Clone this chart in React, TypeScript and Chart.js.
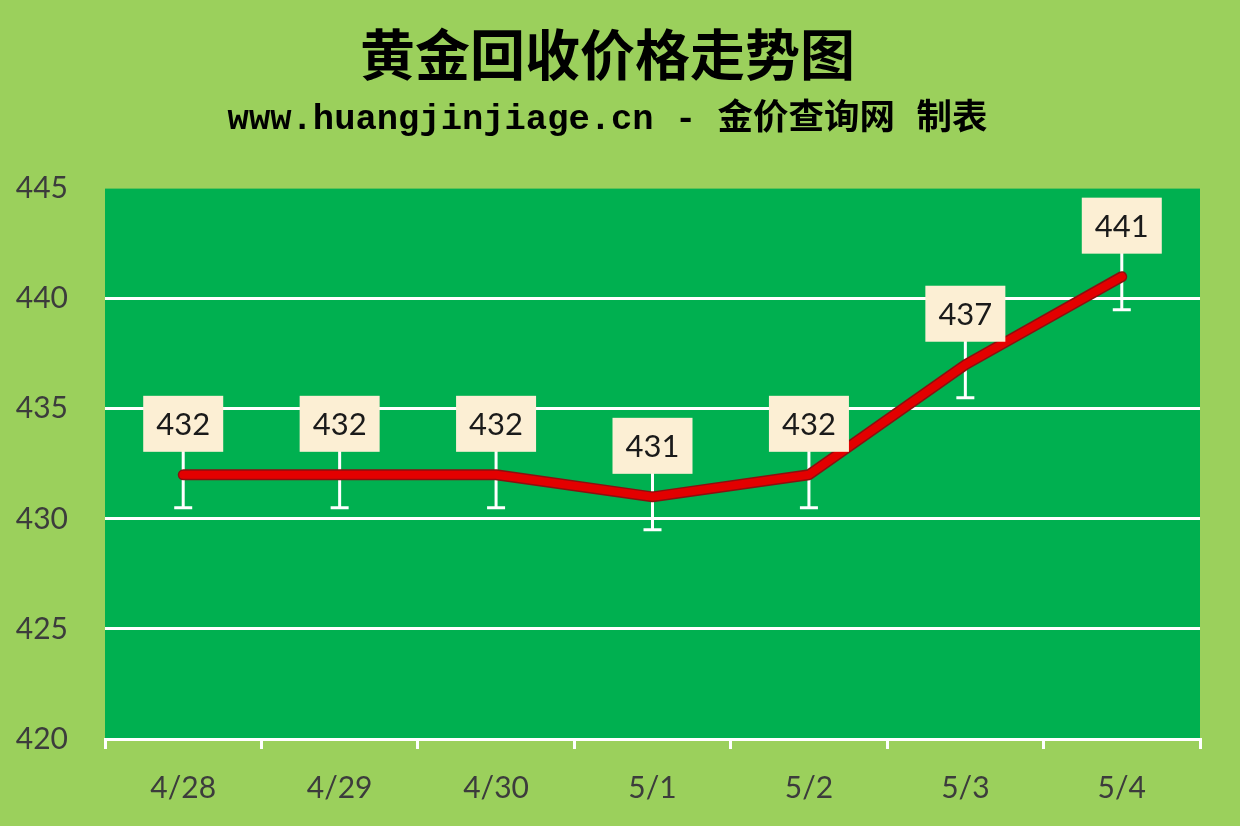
import React, { useEffect, useRef } from 'react';
import { Chart, registerables } from 'chart.js';

Chart.register(...registerables);

// Chart data
const categories = ['4/28', '4/29', '4/30', '5/1', '5/2', '5/3', '5/4'];
const prices = [432, 432, 432, 431, 432, 437, 441];
const errorAmount = 1.5;
const yTicks = [420, 425, 430, 435, 440, 445];

const titleText = '黄金回收价格走势图';
const subtitleText = 'www.huangjinjiage.cn - 金价查询网 制表';

const PAGE_BG = '#9bd05c';
const PLOT_BG = '#00b050';
const BOX_BG = '#fcefd4';

// Draws the plot background, the whiskers under the line and the value boxes above it
const decorPlugin = {
  id: 'decor',
  beforeDraw(chart: any) {
    const { ctx, chartArea } = chart;
    ctx.save();
    ctx.fillStyle = PLOT_BG;
    ctx.fillRect(chartArea.left, chartArea.top, chartArea.right - chartArea.left, chartArea.bottom - chartArea.top);
    ctx.restore();
  },
  beforeDatasetsDraw(chart: any) {
    const { ctx, scales } = chart;
    const x = scales.x;
    const y = scales.y;
    ctx.save();
    ctx.strokeStyle = '#ffffff';
    ctx.lineWidth = 3;
    ctx.lineCap = 'butt';
    prices.forEach((v, i) => {
      const px = x.getPixelForValue(i);
      const top = y.getPixelForValue(v + errorAmount);
      const bottom = y.getPixelForValue(v - errorAmount);
      ctx.beginPath();
      ctx.moveTo(px, top);
      ctx.lineTo(px, bottom);
      ctx.moveTo(px - 9, bottom);
      ctx.lineTo(px + 9, bottom);
      ctx.stroke();
    });
    ctx.restore();
  },
  afterDatasetsDraw(chart: any) {
    const { ctx, scales } = chart;
    const x = scales.x;
    const y = scales.y;
    const boxW = 80;
    const boxH = 56;
    ctx.save();
    ctx.font = '31px Lato, "Open Sans", sans-serif';
    ctx.textAlign = 'center';
    ctx.textBaseline = 'middle';
    prices.forEach((v, i) => {
      const px = x.getPixelForValue(i);
      const py = y.getPixelForValue(v);
      const bottom = py - 23;
      ctx.fillStyle = BOX_BG;
      ctx.fillRect(px - boxW / 2, bottom - boxH, boxW, boxH);
      ctx.fillStyle = '#1a1a1a';
      ctx.fillText(String(v), px, bottom - boxH / 2 + 1);
    });
    ctx.restore();
  },
};

const GoldPriceChart: React.FC = () => {
  const chartRef = useRef<HTMLCanvasElement | null>(null);
  const chartInstance = useRef<Chart | null>(null);

  useEffect(() => {
    if (!chartRef.current) return;

    if (chartInstance.current) {
      chartInstance.current.destroy();
    }

    chartInstance.current = new Chart(chartRef.current, {
      type: 'line',
      data: {
        labels: categories,
        datasets: [
          {
            label: '价格',
            data: prices,
            borderColor: '#e30000',
            borderWidth: 8,
            borderCapStyle: 'round',
            borderJoinStyle: 'round',
            pointRadius: 0,
            tension: 0,
            fill: false,
            order: 1,
          },
          {
            label: 'outline',
            data: prices,
            borderColor: '#8a1010',
            borderWidth: 11,
            borderCapStyle: 'round',
            borderJoinStyle: 'round',
            pointRadius: 0,
            tension: 0,
            fill: false,
            order: 2,
          },
        ],
      },
      plugins: [decorPlugin],
      options: {
        responsive: true,
        maintainAspectRatio: false,
        animation: false,
        layout: {
          padding: { left: 15, right: 40, bottom: 0, top: 0 },
        },
        scales: {
          x: {
            offset: true,
            afterFit: (axis: any) => {
              axis.height = 87;
            },
            grid: {
              offset: true,
              drawOnChartArea: false,
              drawTicks: true,
              tickLength: 10,
              color: '#ffffff',
              lineWidth: 3,
            },
            border: { display: true, color: '#ffffff', width: 3 },
            ticks: {
              color: '#3c3c3c',
              font: { family: 'Lato, "Open Sans", sans-serif', size: 30 },
              padding: 21,
            },
          },
          y: {
            min: 420,
            max: 445,
            afterBuildTicks: (axis: any) => {
              axis.ticks = yTicks.map((value) => ({ value }));
            },
            afterFit: (axis: any) => {
              axis.width = 90;
            },
            grid: {
              drawTicks: false,
              color: (c: any) => (c.tick && c.tick.value === 445 ? 'rgba(0,0,0,0)' : '#ffffff'),
              lineWidth: 3,
            },
            border: { display: false },
            ticks: {
              color: '#3c3c3c',
              font: { family: 'Lato, "Open Sans", sans-serif', size: 30 },
              padding: 37,
            },
          },
        },
        plugins: {
          legend: { display: false },
          tooltip: { enabled: false },
          title: {
            display: true,
            text: titleText,
            color: '#000000',
            font: { family: '"Noto Sans CJK SC", sans-serif', size: 55, weight: 'bold' },
            padding: { top: 21, bottom: 12 },
          },
          subtitle: {
            display: true,
            text: subtitleText,
            color: '#000000',
            font: { family: '"Liberation Mono", "Noto Sans CJK SC", monospace', size: 35.5, weight: 'bold' },
            padding: { bottom: 47 },
          },
        },
      },
    });

    return () => {
      if (chartInstance.current) {
        chartInstance.current.destroy();
        chartInstance.current = null;
      }
    };
  }, []);

  return (
    <div style={{ position: 'fixed', left: 0, top: 0, width: 1240, height: 826, background: PAGE_BG }}>
      <canvas ref={chartRef} />
    </div>
  );
};

export default function App() {
  return <GoldPriceChart />;
}
